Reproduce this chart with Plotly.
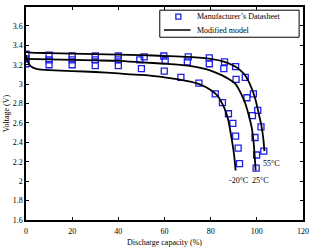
import plotly.graph_objects as go

# Model curves (Modified model)
x_55 = [0, 2, 10, 20, 30, 40, 50, 60, 70, 80, 86, 90.8, 93, 95, 97, 99.2, 100.6, 102, 102.8, 103.3]
v_55 = [3.33, 3.325, 3.32, 3.315, 3.31, 3.305, 3.30, 3.29, 3.28, 3.26, 3.23, 3.18, 3.14, 3.09, 3.00, 2.86, 2.72, 2.57, 2.44, 2.31]

x_25 = [0, 10, 20, 30, 40, 50, 60, 70, 80, 85, 88, 90.8, 93, 95, 96.5, 97.8, 98.6, 99.1, 99.5]
v_25 = [3.26, 3.255, 3.25, 3.245, 3.24, 3.225, 3.21, 3.19, 3.14, 3.09, 3.05, 3.00, 2.91, 2.80, 2.68, 2.55, 2.40, 2.25, 2.11]

x_m20 = [0, 0.5, 1.5, 3, 5, 10, 20, 30, 40, 50, 60, 70, 75, 80, 83, 85, 86.5, 87.5, 88.5, 89.5, 90.3, 90.8]
v_m20 = [3.30, 3.25, 3.20, 3.17, 3.155, 3.145, 3.135, 3.125, 3.11, 3.095, 3.07, 3.03, 3.00, 2.94, 2.88, 2.80, 2.72, 2.64, 2.52, 2.38, 2.24, 2.11]

# Manufacturer's datasheet points
dx_55 = [0, 10, 20, 30, 40, 51.2, 59.7, 70.3, 79.4, 86, 90.8, 95, 98.5, 100.4, 101.8, 103]
dv_55 = [3.31, 3.30, 3.29, 3.29, 3.29, 3.28, 3.29, 3.28, 3.27, 3.23, 3.18, 3.07, 2.90, 2.73, 2.56, 2.31]

dx_25 = [0, 10, 20, 30, 40, 49.3, 60.3, 69.9, 79.4, 85.7, 91, 95.7, 98.1, 99.2, 99.9, 99.7]
dv_25 = [3.26, 3.25, 3.25, 3.25, 3.25, 3.25, 3.245, 3.23, 3.21, 3.16, 3.05, 2.86, 2.675, 2.45, 2.27, 2.135]

dx_m20 = [0, 10, 20, 30, 40, 50, 59.9, 67.1, 74.9, 82, 85.1, 87.7, 89.6, 90.8, 91.9, 92.5]
dv_m20 = [3.21, 3.20, 3.20, 3.19, 3.19, 3.16, 3.135, 3.07, 3.01, 2.90, 2.81, 2.695, 2.596, 2.464, 2.34, 2.18]

temp_labels = ["55°C", "-20°C", "25°C"]
label_x = [106.3, 91.9, 101.4]
label_y = [2.18, 2.01, 2.01]

legend_labels = ["Manufacturer\u2019s Datasheet", "Modified model"]

FONT = "Liberation Serif"
BLUE = "#1f1fe6"

fig = go.Figure()

for dx, dv in [(dx_55, dv_55), (dx_25, dv_25), (dx_m20, dv_m20)]:
    fig.add_trace(go.Scatter(
        x=dx, y=dv, mode="markers",
        marker=dict(symbol="square-open", size=6, color=BLUE, line=dict(width=1.3, color=BLUE)),
        name=legend_labels[0], showlegend=False))

for cx, cv in [(x_55, v_55), (x_25, v_25), (x_m20, v_m20)]:
    fig.add_trace(go.Scatter(
        x=cx, y=cv, mode="lines", line=dict(color="black", width=1.8, shape="spline", smoothing=0.6),
        name=legend_labels[1], showlegend=False))

for t, lx, ly in zip(temp_labels, label_x, label_y):
    fig.add_annotation(x=lx, y=ly, text=t, showarrow=False,
                       font=dict(family=FONT, size=8, color="black"))

# Compact legend box (drawn in paper coordinates)
fig.add_shape(type="rect", xref="paper", yref="paper", x0=0.483, x1=0.986, y0=0.858, y1=0.985,
              line=dict(color="black", width=1), fillcolor="white", layer="above")
fig.add_shape(type="rect", xref="paper", yref="paper", x0=0.550 - 0.009, x1=0.550 + 0.009,
              y0=0.955 - 0.0115, y1=0.955 + 0.0115, line=dict(color=BLUE, width=1.3), layer="above")
fig.add_shape(type="line", xref="paper", yref="paper", x0=0.498, x1=0.594, y0=0.892, y1=0.892,
              line=dict(color="black", width=1.5), layer="above")
for txt, ty in zip(legend_labels, [0.955, 0.892]):
    fig.add_annotation(xref="paper", yref="paper", x=0.611, y=ty, xanchor="left", yanchor="middle",
                       text=txt, showarrow=False, font=dict(family=FONT, size=8, color="black"))

axis_common = dict(showline=True, linecolor="black", linewidth=1.5, mirror="ticks",
                   ticks="inside", ticklen=3, tickwidth=1, tickcolor="black",
                   showgrid=False, zeroline=False,
                   tickfont=dict(family=FONT, size=8, color="black"))

fig.update_layout(
    width=314, height=251,
    margin=dict(l=26, r=5, t=5, b=23),
    paper_bgcolor="white", plot_bgcolor="white",
    font=dict(family=FONT, size=8, color="black"),
    xaxis=dict(range=[0, 120], dtick=20, tick0=0, ticklabelstandoff=3,
               title=dict(text="Discharge capacity (%)", font=dict(family=FONT, size=8), standoff=4),
               **axis_common),
    yaxis=dict(range=[1.6, 3.795], dtick=0.2, tick0=1.6,
               title=dict(text="Voltage (V)", font=dict(family=FONT, size=8), standoff=2),
               **axis_common),
    showlegend=False,
)

fig.write_html("out.html")
